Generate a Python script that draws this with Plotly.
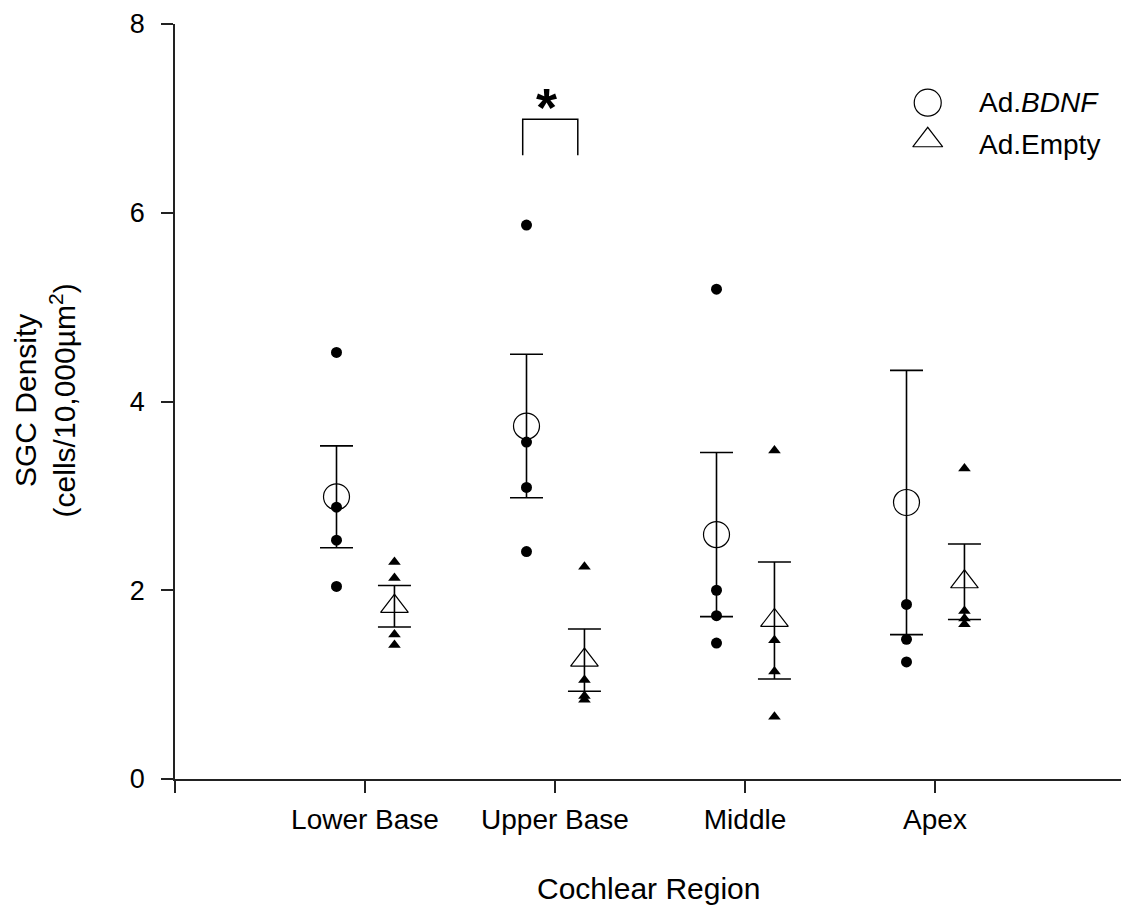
import plotly.graph_objects as go

# ---------------- data ----------------
regions = ["Lower Base", "Upper Base", "Middle", "Apex"]

bdnf_mean = [2.99, 3.74, 2.59, 2.93]
bdnf_sem = [0.54, 0.76, 0.87, 1.40]
empty_mean = [1.83, 1.26, 1.68, 2.09]
empty_sem = [0.22, 0.33, 0.62, 0.40]

bdnf_points = [
    [4.52, 2.88, 2.53, 2.04],
    [5.87, 3.57, 3.09, 2.41],
    [5.19, 2.00, 1.73, 1.44],
    [1.85, 1.48, 1.24],
]
empty_points = [
    [2.30, 2.13, 1.53, 1.42],
    [2.25, 1.05, 0.88, 0.84],
    [3.48, 1.47, 1.14, 0.66],
    [3.29, 1.78, 1.70, 1.64],
]

y_ticks = [0, 2, 4, 6, 8]
series_names = ["Ad.<i>BDNF</i>", "Ad.Empty"]
sig_region = 1          # Upper Base
sig_label = "*"

# ---------------- layout helpers ----------------
OFF_B = -0.15
OFF_E = 0.155
FONT = "Liberation Sans, Arial, sans-serif"
pos = [i + 1 for i in range(len(regions))]

fig = go.Figure()

# means with SEM
fig.add_trace(go.Scatter(
    x=[p + OFF_B for p in pos], y=bdnf_mean, mode="markers",
    marker=dict(symbol="circle-open", size=26, color="black", line=dict(width=1.2, color="black")),
    error_y=dict(type="data", array=bdnf_sem, visible=True, color="black", thickness=1.6, width=16.5),
    showlegend=False))
fig.add_trace(go.Scatter(
    x=[p + OFF_E for p in pos], y=empty_mean, mode="markers",
    marker=dict(symbol="triangle-up-open", size=24, color="black", line=dict(width=1.2, color="black")),
    error_y=dict(type="data", array=empty_sem, visible=True, color="black", thickness=1.6, width=16.5),
    showlegend=False))

# individual points
bx, by, ex, ey = [], [], [], []
for i, pts in enumerate(bdnf_points):
    bx += [pos[i] + OFF_B] * len(pts)
    by += pts
for i, pts in enumerate(empty_points):
    ex += [pos[i] + OFF_E] * len(pts)
    ey += pts
fig.add_trace(go.Scatter(x=bx, y=by, mode="markers",
                         marker=dict(symbol="circle", size=11, color="black"), showlegend=False))
fig.add_trace(go.Scatter(x=ex, y=ey, mode="markers",
                         marker=dict(symbol="triangle-up", size=11, color="black"), showlegend=False))

# legend keys on an auxiliary axis spanning the plot area
leg_x = 0.7957
leg_y = [0.8958, 0.846]
fig.add_trace(go.Scatter(x=[leg_x], y=[leg_y[0]], xaxis="x2", yaxis="y2", mode="markers",
                         marker=dict(symbol="circle-open", size=27, color="black", line=dict(width=1.2)),
                         showlegend=False, hoverinfo="skip"))
fig.add_trace(go.Scatter(x=[leg_x], y=[leg_y[1]], xaxis="x2", yaxis="y2", mode="markers",
                         marker=dict(symbol="triangle-up-open", size=26, color="black", line=dict(width=1.2)),
                         showlegend=False, hoverinfo="skip"))

annotations = []
for name, yy in zip(series_names, [leg_y[0], leg_y[1] - 0.005]):
    annotations.append(dict(text=name, xref="paper", yref="paper", x=0.8478, y=yy,
                            xanchor="left", yanchor="middle", showarrow=False,
                            font=dict(family=FONT, size=28, color="black")))

# significance bracket
sx0 = pos[sig_region] - 0.17
sx1 = pos[sig_region] + 0.12
sy0, sy1 = 6.61, 6.99
fig.add_shape(type="path", xref="x", yref="y",
              path=f"M {sx0},{sy0} L {sx0},{sy1} L {sx1},{sy1} L {sx1},{sy0}",
              line=dict(color="black", width=1.5))
annotations.append(dict(text="<b>" + sig_label + "</b>", x=(sx0 + sx1) / 2 - 0.02, y=7.12,
                        xref="x", yref="y",
                        showarrow=False, font=dict(family=FONT, size=54, color="black"),
                        xanchor="center", yanchor="middle"))

# axis titles
annotations.append(dict(text="SGC Density<br>(cells/10,000µm<sup>2</sup>)", textangle=-90,
                        xref="paper", yref="paper", x=-0.137, y=0.502,
                        xanchor="center", yanchor="middle", showarrow=False,
                        font=dict(family=FONT, size=30, color="black")))
annotations.append(dict(text="Cochlear Region", xref="paper", yref="paper", x=0.5, y=-0.145,
                        xanchor="center", yanchor="middle", showarrow=False,
                        font=dict(family=FONT, size=30, color="black")))

fig.update_layout(
    width=1121, height=910,
    margin=dict(l=175, r=0, t=24, b=131),
    paper_bgcolor="white", plot_bgcolor="white",
    showlegend=False,
    annotations=annotations,
    xaxis=dict(range=[0, 946 / 190], tickvals=pos, ticktext=regions,
               showgrid=False, zeroline=False, showline=True, linecolor="#222", linewidth=1.6,
               ticks="outside", ticklen=12, tickwidth=1.6, tickcolor="#222",
               minor=dict(tickvals=[0], ticks="outside", ticklen=12, tickwidth=1.6,
                          tickcolor="#222", showgrid=False),
               tickfont=dict(family=FONT, size=28, color="black"), ticklabelstandoff=3),
    yaxis=dict(range=[0, 8], tickvals=y_ticks,
               showgrid=False, zeroline=False, showline=True, linecolor="#222", linewidth=1.6,
               ticks="outside", ticklen=12, tickwidth=1.6, tickcolor="#222",
               tickfont=dict(family=FONT, size=27, color="black"), ticklabelstandoff=11),
    xaxis2=dict(overlaying="x", range=[0, 1], visible=False),
    yaxis2=dict(overlaying="y", range=[0, 1], visible=False),
)

fig.write_html("out.html")
